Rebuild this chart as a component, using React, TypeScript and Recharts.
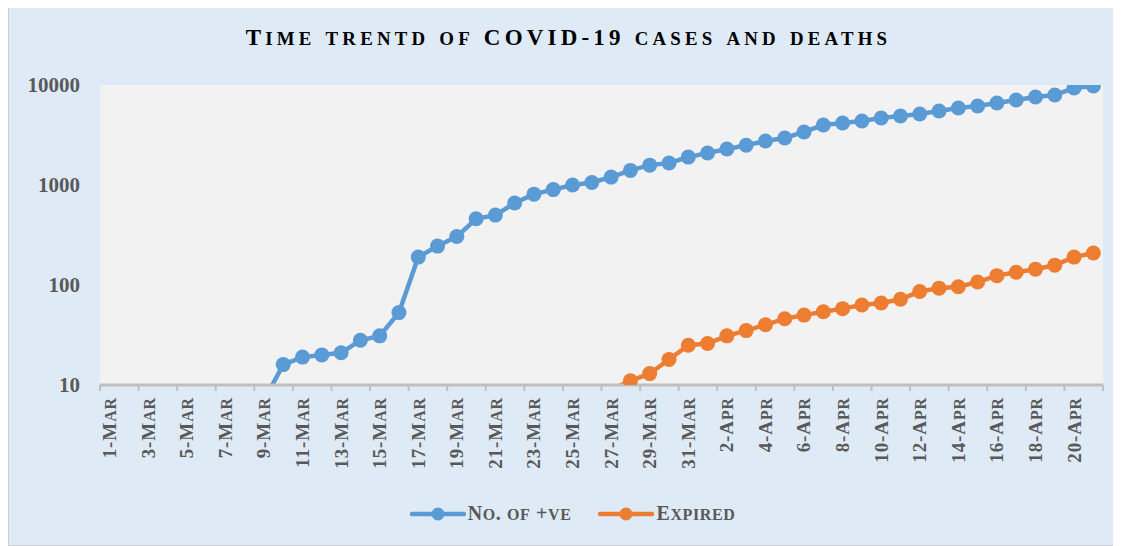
import React from "react";
import { LineChart, Line, XAxis, YAxis, CartesianGrid } from "recharts";

const days = [
  "1-Mar", "2-Mar", "3-Mar", "4-Mar", "5-Mar", "6-Mar", "7-Mar", "8-Mar", "9-Mar", "10-Mar",
  "11-Mar", "12-Mar", "13-Mar", "14-Mar", "15-Mar", "16-Mar", "17-Mar", "18-Mar", "19-Mar", "20-Mar",
  "21-Mar", "22-Mar", "23-Mar", "24-Mar", "25-Mar", "26-Mar", "27-Mar", "28-Mar", "29-Mar", "30-Mar",
  "31-Mar", "1-Apr", "2-Apr", "3-Apr", "4-Apr", "5-Apr", "6-Apr", "7-Apr", "8-Apr", "9-Apr",
  "10-Apr", "11-Apr", "12-Apr", "13-Apr", "14-Apr", "15-Apr", "16-Apr", "17-Apr", "18-Apr", "19-Apr",
  "20-Apr", "21-Apr",
];

// values under 10 sit below the axis floor and get clipped
const positive = [
  4, 5, 5, 5, 5, 6, 6, 6, 7, 16,
  19, 20, 21, 28, 31, 53, 190, 245, 305, 460,
  500, 660, 810, 900, 1000, 1060, 1200, 1400, 1580, 1660,
  1900, 2090, 2290, 2500, 2750, 2950, 3390, 3980, 4170, 4370,
  4680, 4900, 5130, 5500, 5890, 6170, 6610, 7080, 7590, 7940,
  9330, 9770,
];

const expired = [
  null, null, null, null, null, null, null, null, null, null,
  null, null, null, null, null, null, null, 1, 2, 2,
  3, 3, 5, 6, 7, 7, 9, 11, 13, 18,
  25, 26, 31, 35, 40, 46, 50, 54, 58, 63,
  66, 72, 86, 93, 96, 107, 124, 134, 144, 158,
  190, 209,
];

const yTicks = [10, 100, 1000, 10000];

const BLUE = "#5B9BD5";
const ORANGE = "#ED7D31";
const TEXT = "#595959";
const FONT = "'Liberation Serif', 'Times New Roman', serif";

const data = days.map((d, i) => ({ day: d, positive: positive[i], expired: expired[i] }));

const PLOT_W = 1003;
const BAND = PLOT_W / days.length;

// split text into runs so lowercase letters can be drawn as smaller capitals
function capsRuns(s: string) {
  const runs: { t: string; small: boolean }[] = [];
  for (const ch of s) {
    const small = ch !== ch.toUpperCase();
    const last = runs[runs.length - 1];
    if (last && last.small === small) last.t += ch.toUpperCase();
    else runs.push({ t: ch.toUpperCase(), small });
  }
  return runs;
}

function CapsHtml({ text, ratio }: { text: string; ratio: number }) {
  return (
    <>
      {capsRuns(text).map((r, i) => (
        <span key={i} style={{ fontSize: r.small ? `${ratio}em` : "1em" }}>
          {r.t}
        </span>
      ))}
    </>
  );
}

function DayTick(props: any) {
  const { x, y, payload } = props;
  const fs = 19;
  return (
    <g transform={`translate(${x},${y})`}>
      <line x1={-BAND / 2} x2={-BAND / 2} y1={-8} y2={-2} stroke="#BFBFBF" strokeWidth={2} />
      {payload.index === days.length - 2 && (
        <line x1={BAND * 1.5} x2={BAND * 1.5} y1={-8} y2={-2} stroke="#BFBFBF" strokeWidth={2} />
      )}
      <text
        transform="rotate(-90)"
        textAnchor="end"
        x={-4}
        dy="0.34em"
        fill={TEXT}
        fontSize={fs}
        fontWeight="bold"
        fontFamily={FONT}
        style={{ letterSpacing: 0.9 }}
      >
        {capsRuns(payload.value).map((r, i) => (
          <tspan key={i} fontSize={r.small ? fs * 0.84 : fs}>
            {r.t}
          </tspan>
        ))}
      </text>
    </g>
  );
}

// markers whose centre falls under the axis floor are not drawn
function makeDot(color: string) {
  return (p: any) => {
    if (p.value == null || p.value < 10) return <g key={`d${p.index}`} />;
    return <circle key={`d${p.index}`} cx={p.cx} cy={p.cy} r={7.5} fill={color} />;
  };
}

function LegendItem({ color, label, gap }: { color: string; label: string; gap: number }) {
  return (
    <div style={{ display: "flex", alignItems: "center", marginRight: gap }}>
      <svg width={56} height={16}>
        <line x1={2} x2={54} y1={8} y2={8} stroke={color} strokeWidth={4.5} strokeLinecap="round" />
        <circle cx={28} cy={8} r={6.5} fill={color} />
      </svg>
      <span
        style={{
          fontFamily: FONT,
          fontWeight: "bold",
          fontSize: 20,
          color: TEXT,
          marginLeft: 2,
          letterSpacing: 0.6,
          lineHeight: "20px",
        }}
      >
        <CapsHtml text={label} ratio={0.8} />
      </span>
    </div>
  );
}

export default function App() {
  return (
    <div
      style={{
        position: "relative",
        width: 1111,
        height: 539,
        marginTop: -3,
        background: "#DEEAF6",
        border: "1px solid #D0D0D0",
      }}
    >
      <div
        style={{
          position: "absolute",
          top: 19,
          left: 4,
          width: 1111,
          textAlign: "center",
          fontFamily: FONT,
          fontWeight: "bold",
          fontSize: 23,
          letterSpacing: 4.2,
          color: "#000",
        }}
      >
        <CapsHtml text="Time trentd of COVID-19 cases and deaths" ratio={0.82} />
      </div>

      <LineChart
        width={1111}
        height={539}
        data={data}
        margin={{ top: 79, right: 17, left: 31, bottom: 60 }}
      >
        <CartesianGrid fill="#F2F2F2" horizontal={false} vertical={false} />
        <XAxis
          dataKey="day"
          scale="band"
          interval={1}
          height={100}
          tickLine={false}
          axisLine={{ stroke: "#BFBFBF", strokeWidth: 3 }}
          tick={<DayTick />}
        />
        <YAxis
          scale="log"
          domain={[10, 10000]}
          ticks={yTicks}
          allowDataOverflow
          width={60}
          axisLine={false}
          tickLine={false}
          tickSize={0}
          tickMargin={20}
          tick={{ fill: TEXT, fontSize: 21, fontWeight: "bold", fontFamily: FONT }}
        />
        <Line
          dataKey="positive"
          stroke={BLUE}
          strokeWidth={4.5}
          dot={makeDot(BLUE)}
          isAnimationActive={false}
        />
        <Line
          dataKey="expired"
          stroke={ORANGE}
          strokeWidth={4.5}
          dot={makeDot(ORANGE)}
          isAnimationActive={false}
        />
      </LineChart>

      <div
        style={{
          position: "absolute",
          top: 497,
          left: 0,
          width: 1111,
          display: "flex",
          justifyContent: "center",
          paddingLeft: 16,
          boxSizing: "border-box",
        }}
      >
        <LegendItem color={BLUE} label="No. of +ve" gap={27} />
        <LegendItem color={ORANGE} label="Expired" gap={0} />
      </div>
    </div>
  );
}
